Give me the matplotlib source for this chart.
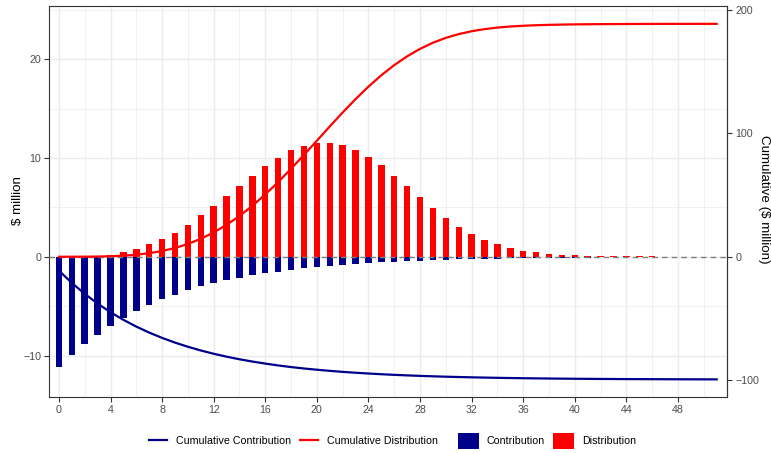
import numpy as np
import matplotlib
matplotlib.use("Agg")
import matplotlib.pyplot as plt
from matplotlib.lines import Line2D
from matplotlib.patches import Patch

plt.rcParams['font.family'] = ['Liberation Sans', 'DejaVu Sans']

# quarters since start of the fund
quarters = list(range(52))

# contributions per quarter ($ million, negative = cash in)
contribution = [-11.2, -9.97, -8.85, -7.9, -6.96, -6.2, -5.47, -4.86, -4.29, -3.82,
                -3.38, -3.0, -2.67, -2.36, -2.1, -1.85, -1.66, -1.49, -1.32, -1.15,
                -1.01, -0.91, -0.81, -0.71, -0.64, -0.57, -0.5, -0.44, -0.4, -0.35,
                -0.31, -0.27, -0.24, -0.21, -0.19, -0.17, -0.15, -0.13, -0.12, -0.1,
                -0.09, -0.08, -0.07, -0.06, -0.05, -0.05, -0.04, -0.04, -0.03, -0.03,
                -0.03, -0.02]

# distributions per quarter ($ million)
distribution = [0.02, 0.03, 0.05, 0.1, 0.22, 0.47, 0.78, 1.25, 1.79, 2.43,
                 3.24, 4.19, 5.13, 6.2, 7.2, 8.2, 9.22, 10.03, 10.77, 11.25,
                 11.48, 11.55, 11.32, 10.84, 10.1, 9.25, 8.2, 7.12, 6.05, 4.97,
                 3.95, 3.04, 2.33, 1.7, 1.25, 0.86, 0.61, 0.44, 0.3, 0.22,
                 0.16, 0.11, 0.08, 0.06, 0.05, 0.04, 0.03, 0.02, 0.02, 0.01,
                 0.01, 0.01]

# right axis is 8x the left one
scale = 8.0

navy = "#00008B"
red = "#FF0000"
grid_col = "#EBEBEB"
tick_col = "#4D4D4D"
frame_col = "#333333"

W, H = 771, 453
fig = plt.figure(figsize=(W / 100, H / 100), dpi=100)
ax = fig.add_axes([49.5 / W, 1 - 397 / H, (727 - 49.5) / W, (397 - 6) / H])

# bars
ax.bar(quarters, contribution, width=0.5, color=navy, linewidth=0, zorder=2)
ax.bar(quarters, distribution, width=0.5, color=red, linewidth=0, zorder=2)

# zero line
ax.axhline(0, color="#7F7F7F", linestyle=(0, (4, 3)), linewidth=1.0, zorder=3)

# cumulative lines, drawn on the left scale
cum_contrib = np.cumsum(contribution) / scale
cum_distrib = np.cumsum(distribution) / scale
ax.plot(quarters, cum_contrib, color=navy, linewidth=1.6, zorder=4)
ax.plot(quarters, cum_distrib, color=red, linewidth=1.6, zorder=4)

ax.set_xlim(-0.73, 51.8)
ax.set_ylim(-14.2, 25.4)

ax.set_xticks(range(0, 49, 4))
ax.set_xticks(range(2, 52, 4), minor=True)
ax.set_yticks([-10, 0, 10, 20])
ax.set_yticks([-5, 5, 15, 25], minor=True)

ax.grid(True, which="major", color=grid_col, linewidth=1.0, zorder=0)
ax.grid(True, which="minor", color=grid_col, linewidth=0.5, zorder=0)
ax.set_axisbelow(True)

for s in ax.spines.values():
    s.set_color(frame_col)
    s.set_linewidth(0.8)

ax.tick_params(axis="both", which="major", length=3.5, width=0.8, color=frame_col,
               labelcolor=tick_col, labelsize=7.7, pad=2.5)
ax.tick_params(axis="both", which="minor", length=0)

# secondary axis
sec = ax.secondary_yaxis("right", functions=(lambda y: y * scale, lambda y: y / scale))
sec.set_yticks([-100, 0, 100, 200])
sec.tick_params(axis="y", length=3.5, width=0.8, color=frame_col,
                labelcolor=tick_col, labelsize=7.7, pad=2.5)
sec.spines["right"].set_color(frame_col)
sec.spines["right"].set_linewidth(0.8)

# axis titles placed by hand
fig.text(18 / W, 1 - 201 / H, "$ million", rotation=90, ha="center", va="center",
         fontsize=9.6, color="black")
fig.text(764 / W, 1 - 199 / H, "Cumulative ($ million)", rotation=270, ha="center",
         va="center", fontsize=9.6, color="black")

# legends at the bottom
line_handles = [Line2D([], [], color=navy, linewidth=1.6),
                Line2D([], [], color=red, linewidth=1.6)]
fig.legend(line_handles, ["Cumulative Contribution", "Cumulative Distribution"],
           loc="center", bbox_to_anchor=(293.5 / W, 1 - 441 / H), ncol=2,
           frameon=False, fontsize=7.7, handlelength=1.65, handletextpad=0.85,
           columnspacing=0.85, borderpad=0)

bar_handles = [Patch(facecolor=navy, edgecolor="none"),
               Patch(facecolor=red, edgecolor="none")]
fig.legend(bar_handles, ["Contribution", "Distribution"],
           loc="center", bbox_to_anchor=(547 / W, 1 - 441 / H), ncol=2,
           frameon=False, fontsize=7.7, handlelength=1.95, handleheight=1.95,
           handletextpad=0.75, columnspacing=0.75, borderpad=0)

fig.savefig("out.png", dpi=100)
